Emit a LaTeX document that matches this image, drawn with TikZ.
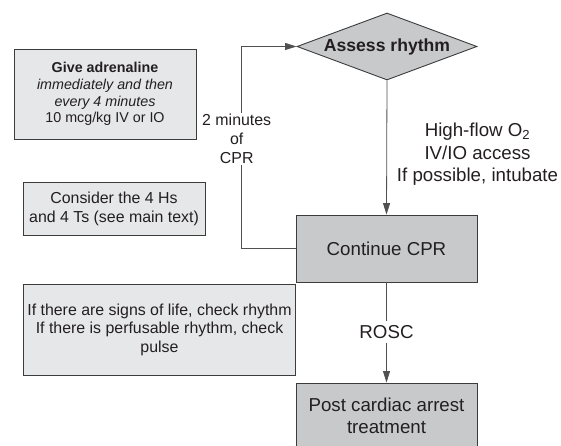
\documentclass[tikz,border=0pt]{standalone}
\usepackage{fontspec}
\setmainfont{Liberation Sans}
\usetikzlibrary{shapes.geometric,arrows.meta}
\definecolor{lightbox}{HTML}{E6E7E9}
\definecolor{darkbox}{HTML}{C8C9CB}
\definecolor{edge}{HTML}{3C3C3C}
\definecolor{ink}{HTML}{231F20}
\tikzset{
  every node/.style={text=ink},
  lbox/.style={draw=edge, line width=0.9pt, fill=lightbox, inner sep=0pt, align=center},
  dbox/.style={draw=edge, line width=0.9pt, fill=darkbox, inner sep=0pt, align=center,
    minimum width=181pt, font=\fontsize{18.7}{22.3}\selectfont},
  conn/.style={draw=edge!90, line width=0.8pt},
  arr/.style={conn, -{Triangle[length=11.5pt,width=7pt]}},
  lbl/.style={fill=white, align=center, inner sep=1pt},
}
\begin{document}
\begin{tikzpicture}[x=1pt,y=-1pt]
\useasboundingbox (0,0) rectangle (561,446);
\begin{scope}
\clip (0,0) rectangle (561,446);
% boxes
\node[lbox, minimum width=182pt, minimum height=90pt, font=\fontsize{14.3}{16.7}\selectfont] (adr) at (105,94)
  {\textbf{Give adrenaline}\\\textit{immediately and then}\\\textit{every 4 minutes}\\10 mcg/kg IV or IO};
\node[lbox, minimum width=182pt, minimum height=53pt, font=\fontsize{15.9}{19}\selectfont] (cons) at (114,208.5)
  {Consider the 4 Hs\\and 4 Ts (see main text)};
\node[lbox, minimum width=272.4pt, minimum height=90.7pt, font=\fontsize{15.9}{18.8}\selectfont] (info) at (159.5,329.7)
  {If there are signs of life, check rhythm\\If there is perfusable rhythm, check\\pulse};
\node[diamond, draw=edge, line width=0.9pt, fill=darkbox, inner sep=0pt, aspect=2.69,
  minimum width=180pt, minimum height=67pt, font=\bfseries\fontsize{17.6}{20}\selectfont] (assess) at (387,46.5) {Assess rhythm};
\node[dbox, minimum height=67pt] (cont) at (386.5,248.5) {Continue CPR};
\node[dbox, minimum height=65pt] (post) at (386.5,415.5) {Post cardiac arrest\\treatment};
% connectors
\coordinate (lb) at (241,248.5);
\coordinate (lt) at (241,46.5);
\draw[conn] (cont.west) -- (lb) -- (lt);
\draw[arr] (lt) -- (assess.west);
\draw[arr] (assess.south) -- (cont.north);
\draw[arr] (cont.south) -- (post.north);
% labels
\node[lbl, font=\fontsize{15.9}{19}\selectfont] (twomin) at (236.7,139) {2 minutes\\of\\CPR};
\node[lbl, font=\fontsize{18.7}{22.5}\selectfont, fill=none] (hf) at (477.5,154.3)
  {High-flow O\textsubscript{2}\\IV/IO access\\If possible, intubate};
\node[lbl, inner sep=4.5pt, font=\fontsize{18.7}{22.3}\selectfont] (rosc) at (386.5,331.7) {ROSC};
\end{scope}
\end{tikzpicture}
\end{document}
